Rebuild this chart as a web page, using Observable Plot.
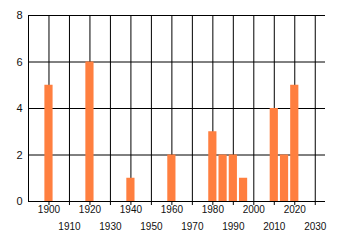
<!DOCTYPE html>
<html>
<head>
<meta charset="utf-8">
<script src="https://cdn.jsdelivr.net/npm/d3@7"></script>
<script src="https://cdn.jsdelivr.net/npm/@observablehq/plot@0.6"></script>
<style>
  html, body { margin: 0; padding: 0; background: #fff; }
</style>
</head>
<body>
<div id="chart"></div>
<script>
const years  = [1900, 1920, 1940, 1960, 1980, 1985, 1990, 1995, 2010, 2015, 2020];
const values = [5, 6, 1, 2, 3, 2, 2, 1, 4, 2, 5];
const decadeTicks = [1900, 1910, 1920, 1930, 1940, 1950, 1960, 1970, 1980, 1990, 2000, 2010, 2020, 2030];
const labelRow1 = [1900, 1920, 1940, 1960, 1980, 2000, 2020];
const labelRow2 = [1910, 1930, 1950, 1970, 1990, 2010, 2030];
const yTicks = [0, 2, 4, 6, 8];
const xDomain = [1890, 2035];
const yDomain = [0, 8];
const barHalfWidth = 2; // years

const data = years.map((y, i) => ({year: y, value: values[i]}));

const chart = Plot.plot({
  width: 340,
  height: 245,
  marginLeft: 28,
  marginRight: 15,
  marginTop: 15,
  marginBottom: 44,
  style: {fontFamily: "'Liberation Sans', Arial, sans-serif", fontSize: "10px", color: "#111", background: "#fff"},
  x: {domain: xDomain},
  y: {domain: yDomain},
  marks: [
    Plot.gridX({ticks: decadeTicks, stroke: "black", strokeOpacity: 1}),
    Plot.gridY({ticks: yTicks, stroke: "black", strokeOpacity: 1}),
    Plot.ruleX([xDomain[0]], {stroke: "black"}),
    Plot.axisX({ticks: decadeTicks, tickSize: 4, text: null, stroke: "black"}),
    Plot.rectY(data, {x1: d => d.year - barHalfWidth, x2: d => d.year + barHalfWidth, y: "value", fill: "#FF7F3F"}),
    Plot.axisX({ticks: labelRow1, tickSize: 0, tickPadding: 4, tickFormat: d => String(d), label: null, fill: "#111"}),
    Plot.axisX({ticks: labelRow2, tickSize: 0, tickPadding: 21, tickFormat: d => String(d), label: null, fill: "#111"}),
    Plot.axisY({ticks: yTicks, tickSize: 0, tickPadding: 6, tickFormat: d => String(d), label: null, fontSize: 11, fill: "#111"})
  ]
});
document.getElementById("chart").appendChild(chart);
</script>
</body>
</html>
